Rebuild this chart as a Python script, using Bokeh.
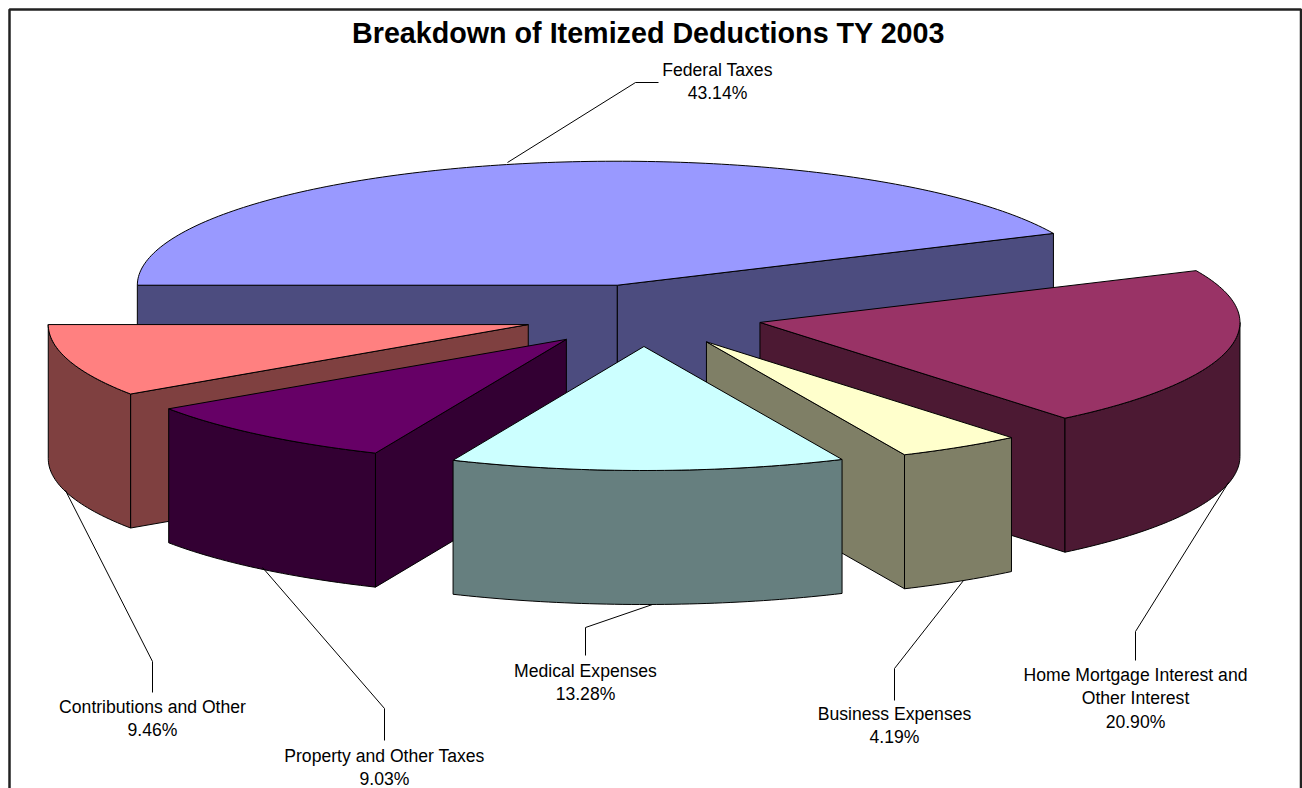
import numpy as np
from bokeh.plotting import figure
from bokeh.models import Range1d
from bokeh.core.properties import value
from bokeh.embed import file_html
from bokeh.resources import INLINE

# ---- data ----
title = "Breakdown of Itemized Deductions TY 2003"
categories = ["Federal Taxes", "Home Mortgage Interest and Other Interest", "Business Expenses",
              "Medical Expenses", "Property and Other Taxes", "Contributions and Other"]
shares = [43.14, 20.90, 4.19, 13.28, 9.03, 9.46]
top_colors = ["#9999FF", "#993366", "#FFFFCC", "#CCFFFF", "#660066", "#FF8080"]
side_colors = ["#4C4C7F", "#4C1933", "#7F7F66", "#667F7F", "#330033", "#7F4040"]
label_lines = [["Federal Taxes"], ["Home Mortgage Interest and", "Other Interest"], ["Business Expenses"],
               ["Medical Expenses"], ["Property and Other Taxes"], ["Contributions and Other"]]

# ---- layout of the projected pie ----
W, H = 1302, 788
CX, CY, RX, RY, DEPTH, EXPLODE = 642.5, 315.0, 480.0, 124.0, 134.0, 0.25
START = 270.0
DRAW_ORDER = [0, 5, 1, 4, 2, 3]
# label anchor (centre x, first-line centre y) and leader bends per slice
LABEL_POS = [(717, 69), (1135, 674), (894, 713), (585, 670), (384, 755), (152, 706)]
LEADERS = [[(507, 162), (635, 82), (658, 82)],
           [(1228, 482), (1135, 631), (1135, 660)],
           [(963, 580), (894, 668), (894, 700)],
           [(652, 604), (585, 627), (585, 655)],
           [(262, 567), (384, 708), (384, 740)],
           [(65, 490), (152, 661), (152, 692)]]

p = figure(width=W, height=H, x_range=Range1d(0, W), y_range=Range1d(H, 0),
           output_backend="svg", toolbar_location=None, min_border=0,
           x_axis_location=None, y_axis_location=None, background_fill_color="white",
           border_fill_color="white", outline_line_color=None)
p.grid.visible = False


def rim(cx, cy, t):
    r = np.radians(t)
    return cx + RX * np.sin(r), cy - RY * np.cos(r)


def arc(cx, cy, a, b, n=None):
    n = n or max(2, int(abs(b - a)) + 2)
    ts = np.linspace(a, b, n)
    return rim(cx, cy, ts)


bounds = []
a = START
for s in shares:
    bounds.append((a, a + s * 3.6))
    a += s * 3.6

for i in DRAW_ORDER:
    a, b = bounds[i]
    mid = np.radians((a + b) / 2)
    cx = CX + EXPLODE * RX * np.sin(mid)
    cy = CY - EXPLODE * RY * np.cos(mid)
    side = side_colors[i]
    # radial cut faces that face the viewer
    if np.sin(np.radians(a)) < 0:
        x, y = rim(cx, cy, a)
        p.patch([cx, x, x, cx], [cy, y, y + DEPTH, cy + DEPTH], fill_color=side, line_color="black", line_width=1)
    if np.sin(np.radians(b)) > 0:
        x, y = rim(cx, cy, b)
        p.patch([cx, x, x, cx], [cy, y, y + DEPTH, cy + DEPTH], fill_color=side, line_color="black", line_width=1)
    # outer wall: the front half of the rim (90..270 degrees)
    for k in (0, 360):
        lo, hi = max(a, 90 + k), min(b, 270 + k)
        if hi > lo:
            xs, ys = arc(cx, cy, lo, hi)
            p.patch(np.r_[xs, xs[::-1]], np.r_[ys, ys[::-1] + DEPTH], fill_color=side,
                    line_color="black", line_width=1)
    # top surface
    xs, ys = arc(cx, cy, a, b)
    p.patch(np.r_[cx, xs], np.r_[cy, ys], fill_color=top_colors[i], line_color="black", line_width=1)

# leader lines
p.multi_line([[q[0] for q in l] for l in LEADERS], [[q[1] for q in l] for l in LEADERS],
             line_color="black", line_width=1)

# labels
LINE_H = 23.5
for i, lines in enumerate(label_lines):
    x0, y0 = LABEL_POS[i]
    texts = lines + [f"{shares[i]:.2f}%"]
    p.text([x0] * len(texts), [y0 + k * LINE_H for k in range(len(texts))], text=texts,
           text_font=value("Liberation Sans"), text_font_size="17.6px", text_color="black",
           text_align="center", text_baseline="middle")

p.text([648], [32], text=[title], text_font=value("Liberation Sans"), text_font_style="bold",
       text_font_size="28.7px", text_color="black", text_align="center", text_baseline="middle")

# chart frame, cut off by the bottom of the picture
p.line([9, 9, 1300.5, 1300.5], [H, 9, 9, H], line_color="#222222", line_width=2.5)

open("out.html", "w").write(file_html(p, INLINE))
